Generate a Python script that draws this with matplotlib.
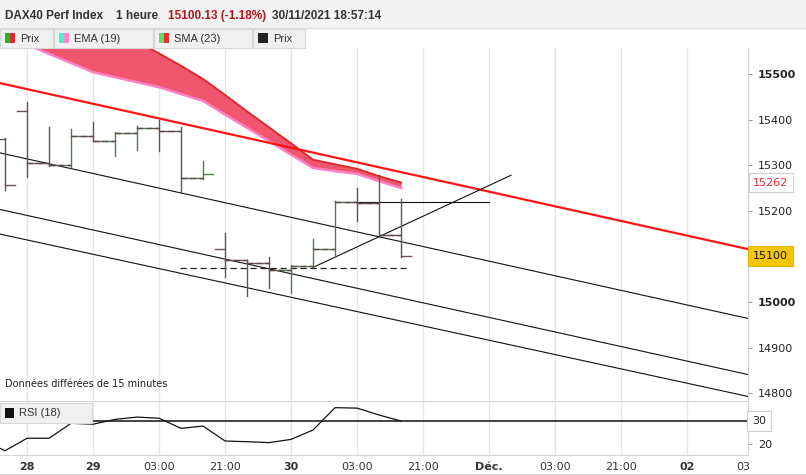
import numpy as np
import matplotlib.pyplot as plt
from matplotlib.patches import Rectangle
import matplotlib.transforms as mtransforms

W, H = 806, 475

# OHLC bars (index positions on a compressed hourly axis)
bar_idx = np.arange(19)
opens = [15357, 15419, 15304, 15300, 15364, 15353, 15371, 15382, 15375, 15271,
         15116, 15092, 15085, 15070, 15079, 15116, 15220, 15218, 15147]
highs = [15359, 15439, 15383, 15379, 15394, 15372, 15386, 15399, 15383, 15309,
         15152, 15092, 15099, 15081, 15138, 15222, 15251, 15279, 15225]
lows = [15246, 15275, 15298, 15295, 15353, 15320, 15333, 15331, 15240, 15269,
        15055, 15013, 15031, 15020, 15077, 15099, 15178, 15147, 15098]
closes = [15257, 15304, 15300, 15364, 15353, 15371, 15382, 15375, 15271, 15280,
          15092, 15085, 15070, 15079, 15116, 15220, 15218, 15147, 15100]
dash_segments = [(1, 9), (10, 18)]

# moving averages
ma_idx = np.arange(1, 19)
ema = [15564, 15544, 15524, 15504, 15493, 15482, 15471, 15456, 15441,
       15411, 15382, 15353, 15323, 15294, 15287, 15281, 15265, 15250]
sma = [15690, 15665, 15640, 15618, 15596, 15572, 15545, 15518, 15489,
       15454, 15418, 15383, 15348, 15312, 15302, 15292, 15276, 15262]

# drawn lines
edge_x = [-0.23, 33.77]
red_line = [15480, 15116]
chan_a = [15327, 14964]
chan_b = [15203, 14841]
chan_c = [15149, 14793]
trend_x = [14, 23]
trend_y = [15076, 15278]
resist_x = [15, 22]
resist_y = 15220
support_x = [7.95, 18.4]
support_y = 15074

# RSI
rsi_idx = np.arange(-1, 19)
rsi = [21.5, 17.1, 22.5, 22.5, 29.0, 28.6, 30.7, 31.7, 31.2, 26.8, 27.8,
       21.3, 21.0, 20.6, 22.0, 26.1, 35.8, 35.6, 32.6, 30.0]

grid_pos = [1, 4, 7, 10, 13, 16, 19, 22, 25, 28, 31]
tick_pos = grid_pos + [33.55]
tick_labels = ['28', '29', '03:00', '21:00', '30', '03:00', '21:00', 'Déc.',
               '03:00', '21:00', '02', '03']
bold_labels = {'28', '29', '30', 'Déc.', '02'}
price_ticks = list(range(14800, 15501, 100))


def rect(x0, y0, x1, y1):
    return [x0 / W, 1 - y1 / H, (x1 - x0) / W, (y1 - y0) / H]


fig = plt.figure(figsize=(W / 100, H / 100), dpi=100)
fig.patch.set_facecolor('white')

ax = fig.add_axes(rect(0, 48, 748, 401))
rx = fig.add_axes(rect(0, 402, 748, 455), sharex=ax)
xlim = (edge_x[0], edge_x[1])

for a in (ax, rx):
    for k in grid_pos:
        a.axvline(k, color='#e2e6e6', lw=0.9, zorder=0)
    for s in ('left', 'top'):
        a.spines[s].set_visible(False)
    a.spines['right'].set_color('#cfcfcf')
    a.spines['bottom'].set_color('#d5d5d5')

ax.set_xlim(*xlim)
ax.set_ylim(14783, 15557)

# EMA / SMA band
ax.fill_between(ma_idx, ema, sma, color='#f2566f', lw=0, zorder=2)
ax.plot(ma_idx, sma, color='#d92b2b', lw=1.4, zorder=3)
ax.plot(ma_idx, ema, color='#ff80c4', lw=1.8, zorder=3)

# red trend line and channel
ax.plot(edge_x, red_line, color='#ff1414', lw=1.6, zorder=4)
for ch in (chan_a, chan_b, chan_c):
    ax.plot(edge_x, ch, color='#111111', lw=0.8, zorder=4)
ax.plot(trend_x, trend_y, color='#111111', lw=0.8, zorder=4)
ax.plot(resist_x, [resist_y, resist_y], color='#111111', lw=0.8, zorder=4)
ax.plot(support_x, [support_y, support_y], color='#222222', lw=0.9,
        ls=(0, (5, 3)), zorder=4)

# OHLC bars
for i in bar_idx:
    c = '#4f7d4f' if closes[i] > opens[i] else '#6b5252'
    ax.plot([i, i], [lows[i], highs[i]], color=c, lw=1.0, zorder=5)
    ax.plot([i - 0.45, i], [opens[i], opens[i]], color=c, lw=1.0, zorder=5)
    ax.plot([i, i + 0.45], [closes[i], closes[i]], color=c, lw=1.0, zorder=5)
for s0, s1 in dash_segments:
    for i in range(s0, s1):
        ax.plot([i, i + 1], [closes[i], closes[i]], color='#5a4a4a', lw=1.0,
                ls=(0, (4, 2.5)), zorder=5)

ax.yaxis.tick_right()
ax.set_yticks(price_ticks)
# the 15100 level is covered by the last-price box
ax.set_yticklabels(['' if v == 15100 else str(v) for v in price_ticks])
ax.tick_params(axis='y', direction='out', length=3, width=0.8, color='#999999',
               pad=4, labelsize=8, labelcolor='#222222')
for lab in ax.get_yticklabels():
    if lab.get_text() in ('15000', '15500'):
        lab.set_fontweight('bold')
ax.tick_params(axis='x', length=0, labelbottom=False)

bt = mtransforms.blended_transform_factory(ax.transAxes, ax.transData)
ax.text(1 + 5 / 748, sma[-1], str(sma[-1]), transform=bt, ha='left', va='center',
        fontsize=8, color='#ee2a35', clip_on=False, zorder=10,
        bbox=dict(boxstyle='square,pad=0.4', fc='white', ec='#cfcfcf', lw=0.8))
ax.text(1 + 5 / 748, closes[-1], str(closes[-1]), transform=bt, ha='left',
        va='center', fontsize=8, color='#111111', clip_on=False, zorder=10,
        bbox=dict(boxstyle='square,pad=0.45', fc='#f6c700', ec='#e2b400', lw=0.8))

ax.text(5 / 748, 17 / 353, 'Données différées de 15 minutes', transform=ax.transAxes,
        fontsize=7, color='#222222', va='center', ha='left')

# RSI panel
rx.set_ylim(15.22, 38.26)
rx.plot(rsi_idx, rsi, color='#111111', lw=0.9, zorder=3)
rx.axhline(30, color='#111111', lw=1.1, zorder=2)
rx.yaxis.tick_right()
rx.set_yticks([20, 30])
rx.set_yticklabels(['20', ''])
rx.tick_params(axis='y', direction='out', length=3, width=0.8, color='#999999',
               pad=4, labelsize=8, labelcolor='#222222')
bt2 = mtransforms.blended_transform_factory(rx.transAxes, rx.transData)
rx.text(1 + 4 / 748, 30, '30', transform=bt2, ha='left', va='center', fontsize=8,
        color='#222222', clip_on=False, zorder=10,
        bbox=dict(boxstyle='square,pad=0.45', fc='white', ec='#cfcfcf', lw=0.8))

rx.set_xticks(tick_pos)
rx.set_xticklabels(tick_labels)
rx.tick_params(axis='x', length=0, pad=5, labelsize=8, labelcolor='#333333')
for lab in rx.get_xticklabels():
    if lab.get_text() in bold_labels:
        lab.set_fontweight('bold')
rx.set_xlim(*xlim)

# header and legend boxes
ov = fig.add_axes([0, 0, 1, 1], zorder=20)
ov.set_xlim(0, W)
ov.set_ylim(H, 0)
ov.axis('off')
ov.patch.set_alpha(0)
ov.add_patch(Rectangle((0, 0), W, 28, fc='#f3f3f3', ec='none'))
ov.plot([0, W], [28, 28], color='#dddddd', lw=0.8)
ov.plot([0, W], [473.5, 473.5], color='#d5d5d5', lw=0.8)
hdr = dict(fontsize=8.5, fontweight='bold', va='center', ha='left',
           family='Liberation Sans')
ov.text(5, 16, 'DAX40 Perf Index', color='#333333', **hdr)
ov.text(116, 16, '1 heure', color='#333333', **hdr)
ov.text(168, 16, '15100.13 (-1.18%)', color='#b5161b', **hdr)
ov.text(272, 16, '30/11/2021 18:57:14', color='#333333', **hdr)

legend_boxes = [
    (0, 53, ('#22b522', '#e02a2a'), 'Prix'),
    (54, 153, ('#4ef0cc', '#ff86c8'), 'EMA (19)'),
    (154, 252, ('#5fe05f', '#ea2e2e'), 'SMA (23)'),
    (253, 305, ('#222222', '#222222'), 'Prix'),
]
for x0, x1, cols, name in legend_boxes:
    ov.add_patch(Rectangle((x0, 28.5), x1 - x0, 19, fc='#f0f0f0', ec='#d6d6d6', lw=0.8))
    ov.add_patch(Rectangle((x0 + 5, 33), 5, 10, fc=cols[0], ec='none'))
    ov.add_patch(Rectangle((x0 + 10, 33), 5, 10, fc=cols[1], ec='none'))
    ov.text(x0 + 20, 38.5, name, fontsize=8, color='#333333', va='center',
            ha='left', family='Liberation Sans')

ov.add_patch(Rectangle((0, 403), 92, 20, fc='#f0f0f0', ec='#d6d6d6', lw=0.8))
ov.add_patch(Rectangle((5, 408), 9, 10, fc='#111111', ec='none'))
ov.text(19, 413, 'RSI (18)', fontsize=8, color='#333333', va='center', ha='left',
        family='Liberation Sans')

plt.savefig('out.png', dpi=100)
